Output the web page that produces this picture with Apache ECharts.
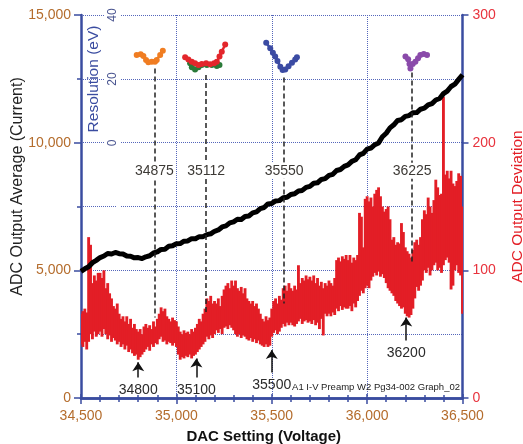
<!DOCTYPE html>
<html><head><meta charset="utf-8">
<script src="https://cdn.jsdelivr.net/npm/echarts@6/dist/echarts.min.js"></script>
<style>html,body{margin:0;padding:0;background:#fff}#c{width:523px;height:444px}</style>
</head><body><div id="c"></div>
<script>
// DAC setting axis
const xTicks = [34500, 35000, 35500, 36000, 36500];
// Black: ADC output average (current), samples every 20 DAC from 34500
const avgStart = 34500, avgStep = 20;
const avgValues = [
  4960, 5060, 5140, 5300, 5390, 5500, 5560, 5660, 5640, 5700,
  5650, 5640, 5560, 5550, 5490, 5500, 5460, 5530, 5570, 5680,
  5720, 5820, 5830, 5940, 5960, 6040, 6050, 6140, 6150, 6240,
  6240, 6320, 6320, 6400, 6430, 6530, 6580, 6700, 6740, 6860,
  6900, 7000, 6990, 7110, 7130, 7250, 7290, 7420, 7460, 7600,
  7620, 7720, 7730, 7840, 7860, 7970, 8000, 8110, 8130, 8250,
  8290, 8410, 8430, 8560, 8590, 8720, 8760, 8910, 8950, 9070,
  9130, 9270, 9330, 9520, 9580, 9750, 9790, 9920, 9990, 10230,
  10370, 10580, 10700, 10870, 10900, 11030, 11060, 11170, 11180, 11310,
  11350, 11480, 11530, 11670, 11730, 11920, 12020, 12200, 12290, 12480,
  12660
];
// Red: ADC output deviation envelope, samples every 10 DAC from 34500
const devStart = 34500, devStep = 10;
const devHigh = [
  66, 68, 70, 67, 126, 120, 90, 96, 92, 98,
  98, 94, 100, 86, 90, 82, 78, 72, 70, 74,
  66, 62, 64, 60, 64, 58, 62, 55, 58, 54,
  52, 54, 50, 56, 58, 55, 57, 54, 60, 56,
  62, 66, 71, 68, 70, 64, 62, 60, 63, 61,
  60, 56, 52, 50, 53, 51, 52, 50, 54, 52,
  55, 58, 62, 60, 66, 70, 78, 76, 80, 74,
  76, 74, 78, 72, 80, 85, 88, 90, 86, 92,
  88, 92, 86, 84, 87, 82, 86, 78, 76, 74,
  76, 72, 74, 70, 66, 62, 60, 64, 61, 63,
  70, 76, 78, 74, 80, 77, 86, 88, 84, 90,
  86, 84, 88, 85, 104, 90, 94, 92, 96, 93,
  95, 92, 96, 90, 94, 88, 91, 86, 90, 88,
  92, 90, 88, 94, 108, 110, 107, 111, 109, 112,
  108, 112, 106, 110, 108, 112, 145, 142, 118, 156,
  158, 154, 157, 150, 160, 163, 165, 158, 150, 146,
  148, 150, 140, 124, 126, 120, 122, 121, 137, 130,
  118, 115, 113, 110, 116, 122, 124, 120, 126, 140,
  147, 144, 157, 150, 145, 155, 171, 165, 159, 160,
  236, 175, 178, 172, 178, 168, 166, 170, 176, 174,
  150
];
const devLow = [
  42, 40, 44, 38, 44, 50, 46, 52, 48, 50,
  52, 48, 54, 50, 46, 49, 44, 47, 45, 42,
  44, 40, 42, 38, 41, 36, 38, 35, 33, 34,
  30, 32, 34, 36, 38, 40, 37, 42, 40, 43,
  42, 46, 48, 44, 45, 42, 44, 43, 41, 43,
  40, 34, 30, 32, 31, 33, 32, 34, 31, 33,
  34, 36, 38, 40, 42, 44, 48, 46, 49, 47,
  50, 53, 51, 54, 50, 55, 56, 54, 57, 55,
  53, 50, 48, 50, 47, 49, 48, 46, 45, 47,
  44, 46, 43, 45, 42, 41, 40, 42, 40, 41,
  48, 51, 53, 50, 52, 55, 58, 56, 59, 57,
  59, 57, 56, 58, 60, 62, 58, 60, 61, 59,
  60, 58, 61, 57, 59, 54, 62, 49, 66, 64,
  66, 64, 67, 65, 70, 68, 72, 69, 71, 70,
  70, 72, 68, 74, 71, 76, 80, 84, 82, 86,
  88, 86, 92, 95, 98, 96, 99, 95, 97, 94,
  90, 86, 84, 82, 80, 76, 74, 72, 70, 71,
  66, 64, 63, 65, 70, 78, 87, 84, 88, 92,
  100, 98, 102, 96, 100, 104, 106, 100, 102, 98,
  104, 108, 110, 106, 85, 88, 100, 104, 98, 96,
  66
];
// Resolution (eV) scans
const orangeX = [34792, 34813, 34827, 34841, 34853, 34871, 34888, 34897, 34915, 34929];
const orangeY = [27.5, 27.7, 27.2, 25.9, 25.2, 25.4, 25.4, 25.9, 27.5, 28.8];
const greenX = [35072, 35081, 35098, 35116, 35133, 35160, 35186, 35212, 35226];
const greenY = [24.9, 23.7, 23.0, 23.7, 24.4, 24.4, 24.4, 24.1, 24.4];
const redX = [35046, 35063, 35081, 35098, 35116, 35133, 35156, 35177, 35198, 35212, 35226, 35238, 35256];
const redY = [26.8, 26.1, 25.4, 24.9, 24.4, 24.7, 24.9, 24.6, 24.9, 25.4, 27.0, 28.5, 30.8];
const blueX = [35471, 35492, 35506, 35518, 35530, 35545, 35557, 35571, 35588, 35606, 35623, 35632];
const blueY = [31.3, 29.6, 28.2, 27.0, 25.6, 23.8, 22.8, 23.0, 24.0, 25.1, 26.1, 26.8];
const purpleX = [36201, 36215, 36222, 36227, 36239, 36253, 36267, 36279, 36297, 36314];
const purpleY = [27.0, 26.2, 24.7, 23.3, 24.7, 25.4, 26.5, 27.5, 27.8, 27.5];
// Annotations (deviation-axis units)
const minDAC = [34885, 35156, 35565, 36236];
const minText = ['34875', '35112', '35550', '36225'];
const minTop = [258, 253, 251, 255];
const minBottom = [63, 67, 74, 106];
const minLabelAt = [178, 178, 178, 178];
const arrowDAC = [34800, 35105, 35500, 36205];
const arrowText = ['34800', '35100', '35500', '36200'];
const arrowTip = [28, 31, 37.6, 63];
const arrowTail = [16, 16, 20, 45];

const FONT = 'Liberation Sans, Arial, sans-serif';
const AXIS_BLUE = '#3a4ca0';
const GRID_BLUE = '#5566bb';
const TICK_ORANGE = '#b46c2c';
const RED = '#e31e26';
const zip = (a, b) => a.map((v, i) => [v, b[i]]);
const fmt = v => v.toLocaleString('en-US');

const avgData = avgValues.map((v, i) => [avgStart + i * avgStep, v]);
const devData = devHigh.map((h, i) => [devStart + i * devStep, devLow[i], h]);

const chart = echarts.init(document.getElementById('c'), null, {renderer: 'canvas'});
const resSeries = (name, xs, ys, color, z) => ({
  name, type: 'line', xAxisIndex: 2, yAxisIndex: 2, data: zip(xs, ys),
  symbol: 'circle', symbolSize: 6, showSymbol: true, z,
  lineStyle: {color, width: 2.5}, itemStyle: {color}
});

chart.setOption({
  animation: false,
  backgroundColor: '#fff',
  textStyle: {fontFamily: FONT},
  grid: [
    {left: 81, right: 60.5, top: 15, bottom: 46, outerBoundsMode: 'none', containLabel: false},
    {left: 81, right: 60.5, top: 15, height: 192, outerBoundsMode: 'none', containLabel: false}
  ],
  xAxis: [
    {type: 'value', gridIndex: 0, position: 'bottom', min: 34500, max: 36500, interval: 500,
     axisLine: {lineStyle: {color: AXIS_BLUE, width: 2.5}},
     axisTick: {length: 6, lineStyle: {color: AXIS_BLUE, width: 1.5}},
     minorTick: {show: true, splitNumber: 5, length: 4, lineStyle: {color: AXIS_BLUE, width: 1.5}},
     axisLabel: {color: TICK_ORANGE, fontSize: 14, margin: 11, formatter: fmt, fontFamily: FONT},
     splitLine: {show: true, lineStyle: {color: GRID_BLUE, type: 'dotted', width: 1}},
     name: 'DAC Setting (Voltage)', nameLocation: 'middle', nameGap: 31,
     nameTextStyle: {color: '#111', fontSize: 15, fontWeight: 'bold', fontFamily: FONT, padding: [0, 16, 0, 0]}},
    {type: 'value', gridIndex: 0, position: 'top', min: 34500, max: 36500, interval: 500,
     axisLine: {lineStyle: {color: AXIS_BLUE, width: 2.5}},
     axisTick: {length: 4, lineStyle: {color: AXIS_BLUE, width: 1.5}},
     minorTick: {show: true, splitNumber: 5, length: 3, lineStyle: {color: AXIS_BLUE, width: 1.5}},
     axisLabel: {show: false}, splitLine: {show: false}},
    {type: 'value', gridIndex: 1, min: 34500, max: 36500, show: false}
  ],
  yAxis: [
    {type: 'value', gridIndex: 0, position: 'left', min: 0, max: 15000, interval: 5000,
     axisLine: {show: true, lineStyle: {color: AXIS_BLUE, width: 2.5}},
     axisTick: {show: true, length: 7, lineStyle: {color: AXIS_BLUE, width: 1.5}},
     minorTick: {show: true, splitNumber: 2, length: 4, lineStyle: {color: AXIS_BLUE, width: 1.5}},
     axisLabel: {color: TICK_ORANGE, fontSize: 14, margin: 10, formatter: fmt, fontFamily: FONT},
     splitLine: {show: true, lineStyle: {color: GRID_BLUE, type: 'dotted', width: 1}},
     minorSplitLine: {show: true, lineStyle: {color: GRID_BLUE, type: 'dotted', width: 1}},
     name: 'ADC Output Average (Current)', nameLocation: 'middle', nameGap: 55.5, nameMoveOverlap: false,
     nameTextStyle: {color: '#222', fontSize: 16, fontFamily: FONT, padding: [0, 0, 0, 40]}},
    {type: 'value', gridIndex: 0, position: 'right', min: 0, max: 300, interval: 100,
     axisLine: {show: true, lineStyle: {color: AXIS_BLUE, width: 2.5}},
     axisTick: {show: true, length: 6, lineStyle: {color: AXIS_BLUE, width: 1.5}},
     axisLabel: {color: '#e8333d', fontSize: 14, margin: 10, fontFamily: FONT},
     splitLine: {show: false},
     name: 'ADC Output Deviation', nameLocation: 'middle', nameGap: 47, nameRotate: 90,
     nameTextStyle: {color: RED, fontSize: 15.5, fontFamily: FONT}},
    {type: 'value', gridIndex: 1, position: 'left', offset: -42, min: -20, max: 40, interval: 20, z: 5,
     axisLine: {show: false}, axisTick: {show: false}, splitLine: {show: false},
     axisLabel: {rotate: 90, color: '#4a5590', fontSize: 12, margin: 2.5, fontFamily: FONT,
                 formatter: v => (v < 0 ? '' : String(v)),
                 backgroundColor: '#fff', padding: [2, 1]},
     name: 'Resolution (eV)', nameLocation: 'middle', nameGap: 21.5, nameMoveOverlap: false,
     nameTextStyle: {color: AXIS_BLUE, fontSize: 15.5, fontFamily: FONT, padding: [0, 0, 0, 64]}}
  ],
  graphic: [
    {type: 'text', right: 63, top: 382, z: 100,
     style: {text: 'A1 I-V Preamp W2 Pg34-002 Graph_02', font: '9.5px ' + FONT, fill: '#222'}}
  ],
  series: [
    {name: 'Minima', type: 'line', xAxisIndex: 0, yAxisIndex: 1, data: [], z: 1,
     markLine: {silent: true, symbol: ['none', 'none'], label: {show: false},
       lineStyle: {color: '#222', type: [5, 3], width: 1.5},
       data: minDAC.map((x, i) => [{coord: [x, minTop[i]]}, {coord: [x, minBottom[i]]}])},
     markPoint: {silent: true, symbol: 'rect', symbolSize: [40, 16], itemStyle: {color: '#fff'},
       label: {show: true, position: 'inside', formatter: '{b}', color: '#3d3a36', fontSize: 14, fontFamily: FONT},
       data: minDAC.map((x, i) => ({name: minText[i], coord: [x, minLabelAt[i]]}))}},
    {name: 'ADC Output Deviation', type: 'custom', xAxisIndex: 0, yAxisIndex: 1, z: 2, clip: true,
     data: devData, encode: {x: 0, y: [1, 2]},
     renderItem: function (params, api) {
       const x = api.value(0), lo = api.value(1), hi = api.value(2);
       const a = api.coord([x - devStep * 0.75, hi]);
       const b = api.coord([x + devStep * 0.75, lo]);
       return {type: 'rect', shape: {x: a[0], y: a[1], width: b[0] - a[0], height: b[1] - a[1]},
               style: {fill: RED}};
     }},
    {name: 'ADC Output Average', type: 'line', xAxisIndex: 0, yAxisIndex: 0, data: avgData, z: 3,
     showSymbol: false, lineStyle: {color: '#000', width: 5, join: 'round'}},
    {name: 'Arrows', type: 'line', xAxisIndex: 0, yAxisIndex: 1, data: [], z: 4,
     markLine: {silent: true, symbol: ['none', 'arrow'], symbolSize: 9,
       lineStyle: {color: '#111', type: 'solid', width: 1.5},
       label: {show: true, position: 'start', distance: 6, formatter: '{b}', color: '#2a2a2a', fontSize: 14, fontFamily: FONT},
       data: arrowDAC.map((x, i) => [{name: arrowText[i], coord: [x, arrowTail[i]]}, {coord: [x, arrowTip[i]]}])}},
    resSeries('Res 34875', orangeX, orangeY, '#f07d22', 10),
    resSeries('Res 35112 b', greenX, greenY, '#2a7a38', 10),
    resSeries('Res 35112', redX, redY, '#e3262b', 11),
    resSeries('Res 35550', blueX, blueY, '#3b4ba3', 10),
    resSeries('Res 36225', purpleX, purpleY, '#8a4aaa', 10)
  ]
});
</script>
</body></html>
